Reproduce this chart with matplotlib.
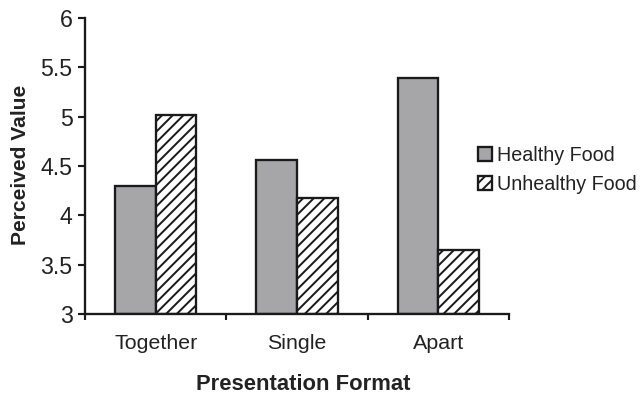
import matplotlib
matplotlib.use("Agg")
import matplotlib.pyplot as plt
import numpy as np

categories = ["Together", "Single", "Apart"]
healthy = [4.30, 4.56, 5.39]
unhealthy = [5.02, 4.18, 3.65]
series_labels = ["Healthy Food", "Unhealthy Food"]
y_ticks = [3, 3.5, 4, 4.5, 5, 5.5, 6]
y_tick_labels = ["3", "3.5", "4", "4.5", "5", "5.5", "6"]

plt.rcParams["font.family"] = ["Liberation Sans", "DejaVu Sans"]
plt.rcParams["hatch.linewidth"] = 1.1
plt.rcParams["hatch.color"] = "#111111"

DPI = 128
fig = plt.figure(figsize=(640 / DPI, 394 / DPI), dpi=DPI)
ax = fig.add_axes([85 / 640, 80 / 394, 424 / 640, 296 / 394])

x = np.arange(len(categories))
w = 0.287
lw = 1.3
ax.bar(x - w / 2, np.array(healthy) - 3, w, bottom=3, color="#a6a6a9",
       edgecolor="#1a1a1a", linewidth=lw, label=series_labels[0], zorder=2)
ax.bar(x + w / 2, np.array(unhealthy) - 3, w, bottom=3, color="white",
       edgecolor="#1a1a1a", linewidth=lw, hatch="////", label=series_labels[1], zorder=2)

ax.set_xlim(-0.5, len(categories) - 0.5)
ax.set_ylim(3, 6)
ax.set_yticks(y_ticks)
ax.set_yticklabels(y_tick_labels, fontsize=13, color="#222222")
ax.set_xticks(x)
ax.set_xticklabels(categories, fontsize=12, color="#222222")
ax.set_xticks(np.arange(-0.5, len(categories)), minor=True)
ax.tick_params(axis="x", which="major", length=0, pad=11)
ax.tick_params(axis="x", which="minor", length=3.5, width=1.2, direction="out", color="#1a1a1a")
ax.tick_params(axis="y", length=4, width=1.2, direction="out", pad=3, color="#1a1a1a")

for side in ("top", "right"):
    ax.spines[side].set_visible(False)
for side in ("left", "bottom"):
    ax.spines[side].set_linewidth(1.3)
    ax.spines[side].set_color("#1a1a1a")

fig.text(21 / 640, 1 - 165 / 394, "Perceived Value", rotation=90, ha="center",
         va="center", fontsize=11.8, fontweight="bold", color="#222222")
fig.text(303 / 640, 1 - 385 / 394, "Presentation Format", ha="center",
         va="center", fontsize=12.4, fontweight="bold", color="#222222")

leg = fig.legend(loc="center left", bbox_to_anchor=(478 / 640, 1 - 170 / 394),
                 frameon=False, fontsize=11.1, handlelength=0.7, handleheight=0.7,
                 handletextpad=0.28, labelspacing=0.5, borderaxespad=0,
                 borderpad=0)
for t in leg.get_texts():
    t.set_color("#222222")

fig.savefig("out.png", dpi=DPI)
